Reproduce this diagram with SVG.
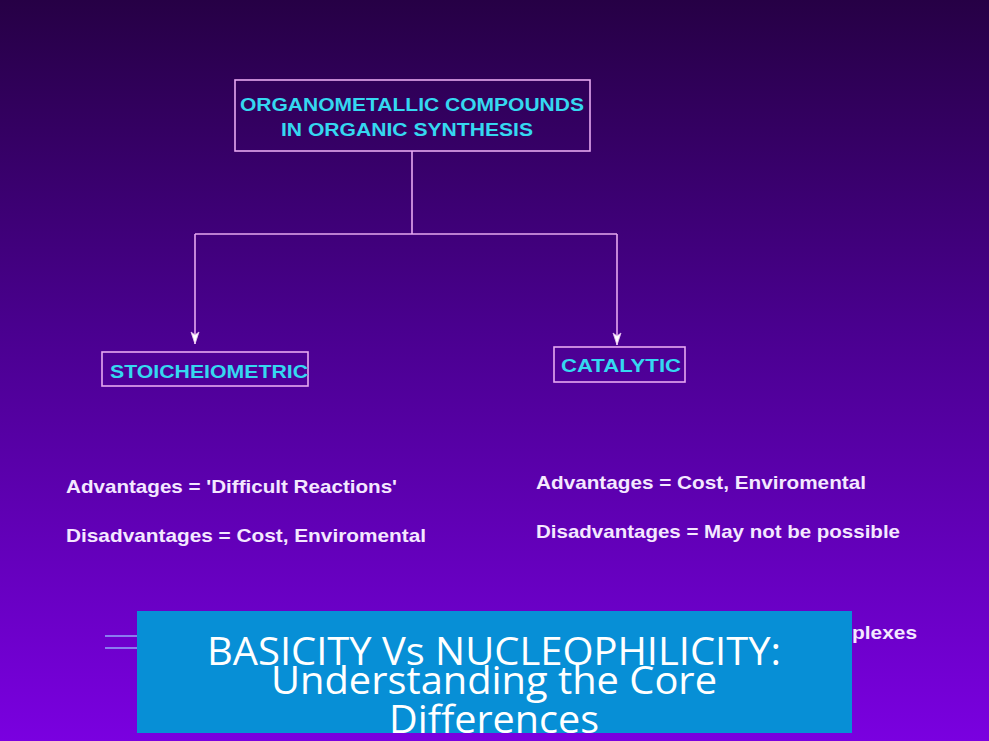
<svg xmlns="http://www.w3.org/2000/svg" width="989" height="741" viewBox="0 0 989 741">
<defs>
<linearGradient id="bg" x1="0" y1="0" x2="0" y2="1">
<stop offset="0" stop-color="#260045"/>
<stop offset="0.45" stop-color="#4a0090"/>
<stop offset="1" stop-color="#7a00e0"/>
</linearGradient>
<marker id="ah" markerWidth="14" markerHeight="10" refX="13" refY="5" orient="auto" markerUnits="userSpaceOnUse">
<path d="M1,1 L13,5 L1,9 L4,5 Z" fill="#ffffff" stroke="#e8c0f0" stroke-width="0.8"/>
</marker>
</defs>
<style>
.box{fill:none;stroke:#e6a8f0;stroke-width:1.6}
.lbl{font-family:"Liberation Sans",Arial,sans-serif;font-weight:bold;fill:#35d8f0}
.txt{font-family:"Liberation Sans",Arial,sans-serif;font-weight:bold;fill:#f4e8ff;font-size:19px}
.ov{font-family:"Open Sans",sans-serif;fill:#ffffff;font-size:39px;text-anchor:middle}
.ln{fill:none;stroke:#e6a8f0;stroke-width:1.6}
</style>
<rect width="989" height="741" fill="url(#bg)"/>
<g id="connectors">
<path class="ln" d="M412,151 V234 M195,234 H617"/>
<path class="ln" d="M195,234 V344" marker-end="url(#ah)"/>
<path class="ln" d="M617,234 V345" marker-end="url(#ah)"/>
</g>
<g id="root">
<rect class="box" x="235" y="80" width="355" height="71"/>
<text class="lbl" x="240" y="111" font-size="19" textLength="344" lengthAdjust="spacingAndGlyphs">ORGANOMETALLIC COMPOUNDS</text>
<text class="lbl" x="281" y="136" font-size="19" textLength="252" lengthAdjust="spacingAndGlyphs">IN ORGANIC SYNTHESIS</text>
</g>
<g id="stoich">
<rect class="box" x="102" y="352" width="206" height="34"/>
<text class="lbl" x="110" y="378" font-size="19" textLength="198" lengthAdjust="spacingAndGlyphs">STOICHEIOMETRIC</text>
</g>
<g id="catalytic">
<rect class="box" x="554" y="347" width="131" height="35"/>
<text class="lbl" x="561" y="372" font-size="19" textLength="120" lengthAdjust="spacingAndGlyphs">CATALYTIC</text>
</g>
<g id="notes">
<text class="txt" x="66" y="493" textLength="331" lengthAdjust="spacingAndGlyphs">Advantages = 'Difficult Reactions'</text>
<text class="txt" x="66" y="542" textLength="360" lengthAdjust="spacingAndGlyphs">Disadvantages = Cost, Enviromental</text>
<text class="txt" x="536" y="489" textLength="330" lengthAdjust="spacingAndGlyphs">Advantages = Cost, Enviromental</text>
<text class="txt" x="536" y="538" textLength="364" lengthAdjust="spacingAndGlyphs">Disadvantages = May not be possible</text>
<text class="txt" x="852" y="639" textLength="65" lengthAdjust="spacingAndGlyphs">plexes</text>
<path d="M105,636 H140 M105,648 H140" stroke="#8a7cf0" stroke-width="2"/>
</g>
<g id="banner">
<rect x="137" y="611" width="715" height="122" fill="#078fd6"/>
<text class="ov" x="494" y="665" textLength="574" lengthAdjust="spacingAndGlyphs">BASICITY Vs NUCLEOPHILICITY:</text>
<text class="ov" x="494" y="694" textLength="446" lengthAdjust="spacingAndGlyphs">Understanding the Core</text>
<text class="ov" x="494" y="733" textLength="210" lengthAdjust="spacingAndGlyphs">Differences</text>
</g>
</svg>
